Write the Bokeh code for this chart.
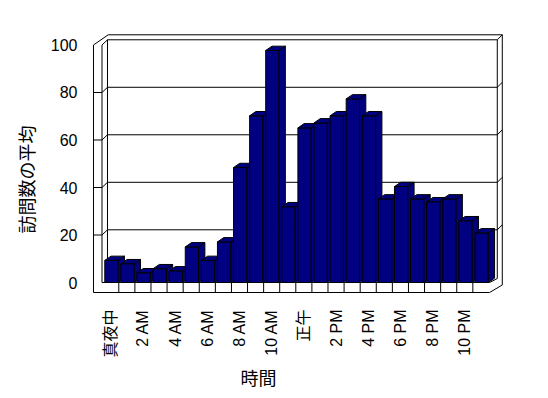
import math
from bokeh.plotting import figure
from bokeh.models import FixedTicker, Title
from bokeh.embed import file_html
from bokeh.resources import INLINE

# ---- data ----
hours = list(range(24))
visits = [9.3, 7.9, 4.1, 5.8, 4.9, 15.0, 9.3, 17.1, 48.4, 70.2, 97.7, 31.9,
          65.1, 67.2, 70.2, 77.3, 70.2, 35.2, 40.4, 35.2, 34.0, 35.2, 26.0, 20.9]
tick_pos = [0.5, 2.5, 4.5, 6.5, 8.5, 10.5, 12.5, 14.5, 16.5, 18.5, 20.5, 22.5]
tick_labels = ["真夜中", "2 AM", "4 AM", "6 AM", "8 AM", "10 AM",
               "正午", "2 PM", "4 PM", "6 PM", "8 PM", "10 PM"]
y_ticks = [0, 20, 40, 60, 80, 100]
grid_vals = [20, 40, 60, 80]
x_title = "時間"
y_title = "訪問数の平均"

NAVY = "#000080"

p = figure(width=548, height=398, x_range=(-0.758, 25.03), y_range=(-5.47, 106.1),
           output_backend="svg", toolbar_location=None,
           min_border_left=90, min_border_right=43, min_border_top=30, min_border_bottom=103)
p.xgrid.visible = False
p.ygrid.visible = False
p.outline_line_color = None
p.background_fill_color = "white"
p.border_fill_color = "white"

# ---- 3D frame geometry (data units) ----
XL, XW, XB, XBo = -0.572, -0.044, 0.298, 0.342
XF, XBR, XBRo = 24.04, 24.52, 24.83
YFB, YTOP, DYB, DYR = -4.21, 100.0, 2.19, 2.1

p.patch([XL, XL, XBo, XBRo, XBRo, XF], [YFB, YTOP, YTOP + DYB + DYR, YTOP + DYB + DYR, -1.05, YFB],
        fill_color="white", line_color="black", line_width=1)

lx, ly = [], []
lx.append([XW, XW, XF]); ly.append([YTOP, 0, 0])
lx.append([XW, XB]); ly.append([YTOP, YTOP + DYB])
lx.append([XB, XB]); ly.append([YTOP + DYB, DYB])
lx.append([XB, XBR, XBR]); ly.append([YTOP + DYB, YTOP + DYB, 1.68])
lx.append([XBR, XBRo]); ly.append([YTOP + DYB, YTOP + DYB + DYR])
lx.append([XF, XBR]); ly.append([0, 1.68])
for k in range(1, 24):
    lx.append([k, k]); ly.append([0, YFB])
for v in grid_vals:
    lx.append([XL, XW, XB, XBR, XBRo]); ly.append([v, v, v + DYB, v + DYB, v + DYB + DYR])
p.multi_line(lx, ly, line_color="black", line_width=1)

# ---- bars ----
BAR_L, BAR_W, DX, DY = 0.13, 0.83, 0.39, 1.8
xs, ys = [], []
for h, v in zip(hours, visits):
    l = h + BAR_L
    r = l + BAR_W
    xs += [[l, r, r, l], [r, r + DX, r + DX, r], [l, r, r + DX, l + DX]]
    ys += [[0, 0, v, v], [0, DY, v + DY, v], [v, v, v + DY, v + DY]]
p.patches(xs, ys, fill_color=NAVY, line_color="black", line_width=1)

# ---- axes ----
ya = p.yaxis[0]
ya.ticker = FixedTicker(ticks=y_ticks)
ya.axis_line_color = None
ya.major_tick_line_color = None
ya.minor_tick_line_color = None
ya.major_label_standoff = 7
ya.major_label_text_font = "Liberation Sans"
ya.major_label_text_font_size = "16px"
ya.major_label_text_color = "black"

xa = p.xaxis[0]
xa.ticker = FixedTicker(ticks=tick_pos)
xa.major_label_overrides = {t: s for t, s in zip(tick_pos, tick_labels)}
xa.major_label_orientation = math.pi / 2
xa.axis_line_color = None
xa.major_tick_line_color = None
xa.minor_tick_line_color = None
xa.major_label_standoff = 8
xa.major_label_text_font = "Liberation Sans, Noto Sans CJK JP"
xa.major_label_text_font_size = "16px"
xa.major_label_text_color = "black"

p.add_layout(Title(text=x_title, align="left", offset=150, standoff=2,
                   text_font="Noto Sans CJK JP", text_font_size="18px",
                   text_font_style="normal", text_color="black"), "below")
p.add_layout(Title(text=y_title, align="left", offset=62, standoff=18,
                   text_font="Noto Sans CJK JP", text_font_size="18px",
                   text_font_style="normal", text_color="black"), "left")

open("out.html", "w").write(file_html(p, INLINE))
